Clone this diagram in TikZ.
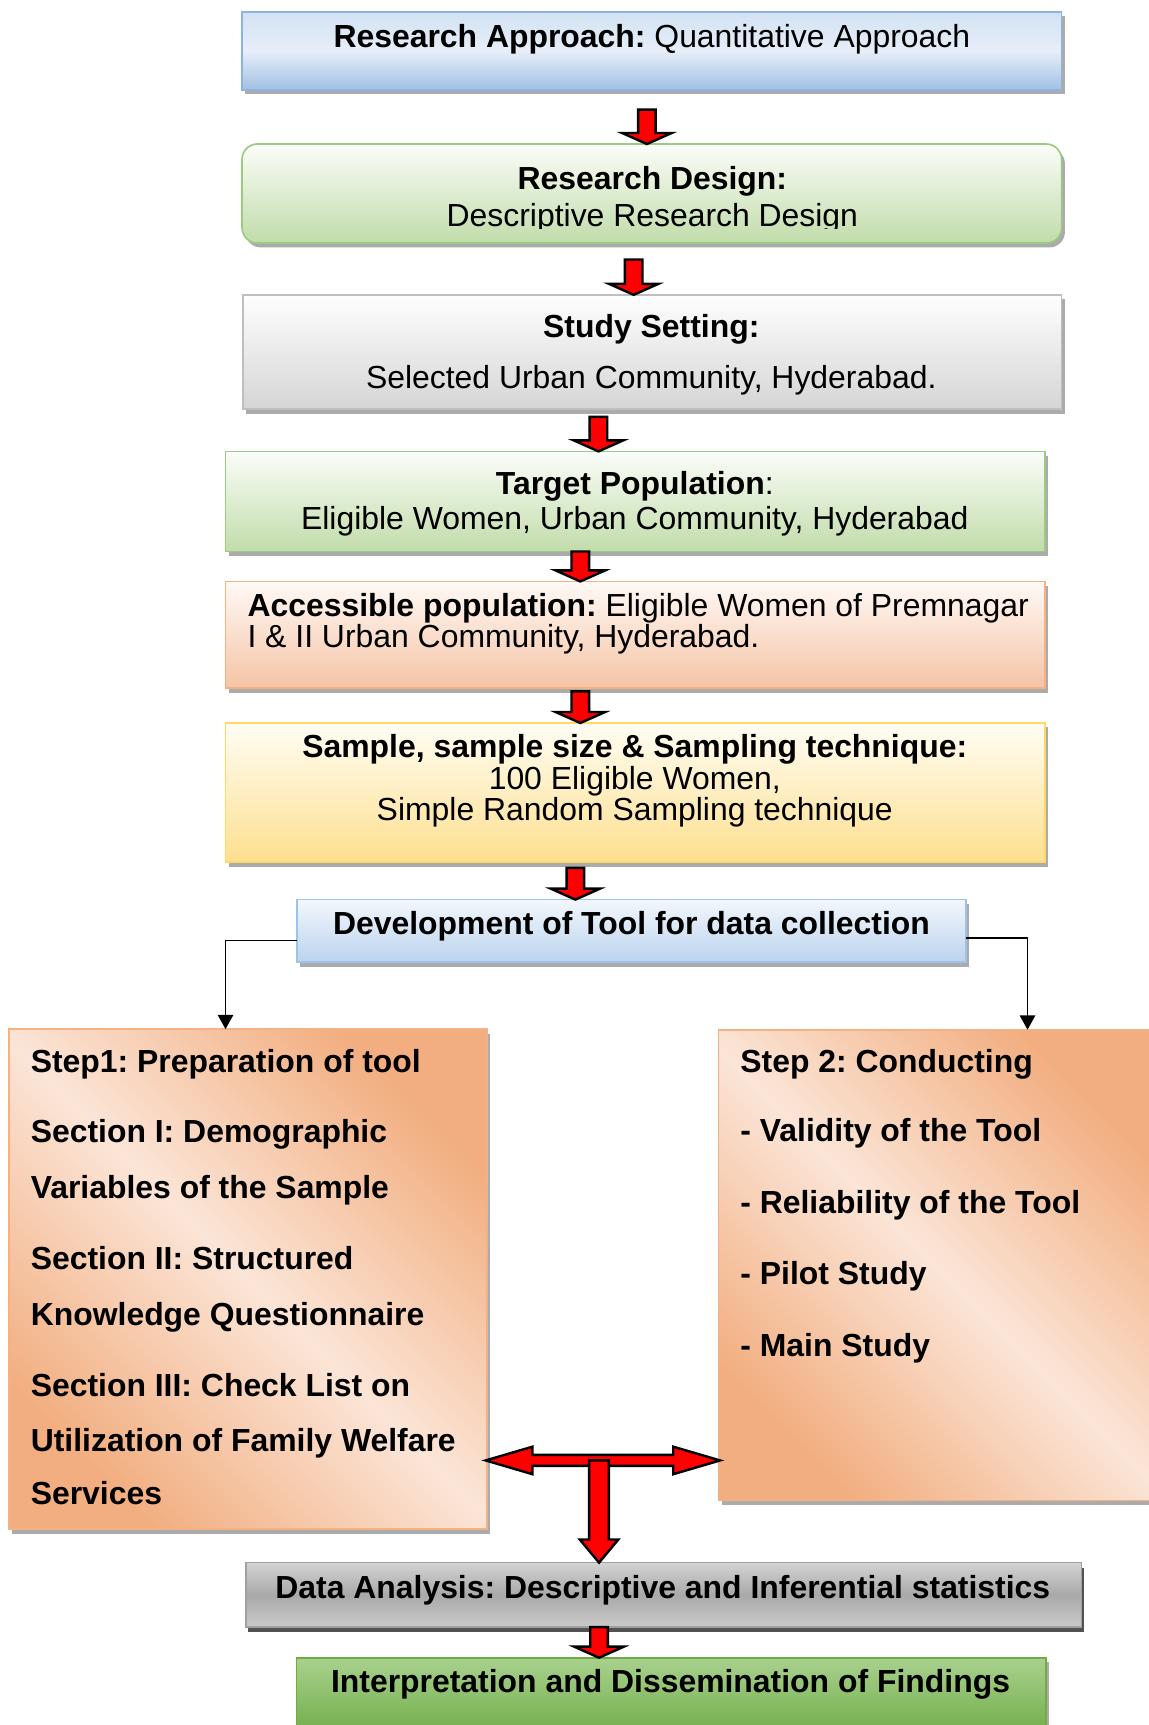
\documentclass[tikz,border=0pt]{standalone}
\usepackage{fontspec}
\setmainfont{Liberation Sans}
\usetikzlibrary{calc,shadows,arrows.meta}
\frenchspacing

\definecolor{blueline}{HTML}{8DB3E2}
\definecolor{bluetop}{HTML}{D2E2F3}
\definecolor{bluemid}{HTML}{E6EEF8}
\definecolor{bluebot}{HTML}{A2C0E4}
\definecolor{bluetwoline}{HTML}{9DC3E6}
\definecolor{bluetwotop}{HTML}{F3F7FC}
\definecolor{bluetwobot}{HTML}{BAD3EE}
\definecolor{greenline}{HTML}{9BCB80}
\definecolor{greentop}{HTML}{FBFDF9}
\definecolor{greenbot}{HTML}{C1DCAA}
\definecolor{grayline}{HTML}{BFBFBF}
\definecolor{graytop}{HTML}{FEFEFE}
\definecolor{graybot}{HTML}{D5D5D5}
\definecolor{peachline}{HTML}{F4B183}
\definecolor{peachtop}{HTML}{FFF9F5}
\definecolor{peachbot}{HTML}{F5C4A5}
\definecolor{yelline}{HTML}{FFD966}
\definecolor{yeltop}{HTML}{FFFDF4}
\definecolor{yelbot}{HTML}{FDDF8E}
\definecolor{stepdark}{HTML}{F2AE80}
\definecolor{steplight}{HTML}{FBE5D7}
\definecolor{dgline}{HTML}{A0A0A0}
\definecolor{dgtop}{HTML}{D3D3D3}
\definecolor{dgmid}{HTML}{A9A9A9}
\definecolor{dgbot}{HTML}{CACACA}
\definecolor{fgline}{HTML}{6FAC46}
\definecolor{fgtop}{HTML}{A9D18E}
\definecolor{fgbot}{HTML}{6EAB45}

\newcommand\fnt{\fontsize{29}{33}\selectfont\frenchspacing}
% block arrow pointing down: #1 start, #2 tip, #3 gap at start, #4 stem half width, #5 head half width, #6 head length
\newcommand\blkdown[6]{\draw[blk] let \p1=#1, \p2=#2 in
 ({\x1-#4},{\y1-#3}) -- ({\x1+#4},{\y1-#3}) -- ({\x1+#4},{\y2+#6}) -- ({\x1+#5},{\y2+#6}) -- (\x1,\y2)
 -- ({\x1-#5},{\y2+#6}) -- ({\x1-#4},{\y2+#6}) -- cycle;}
% horizontal double block arrow between #1 and #2
\newcommand\blkboth[2]{\draw[blk] let \p1=#1, \p2=#2 in
 ({\x1-1pt},\y1) -- ({\x1+41.5pt},{\y1+12.5pt}) -- ({\x1+41.5pt},{\y1+5pt}) -- ({\x2-41pt},{\y1+5pt})
 -- ({\x2-41pt},{\y1+12.5pt}) -- ({\x2+1.5pt},\y1) -- ({\x2-41pt},{\y1-12.5pt}) -- ({\x2-41pt},{\y1-5pt})
 -- ({\x1+41.5pt},{\y1-5pt}) -- ({\x1+41.5pt},{\y1-12.5pt}) -- cycle;}

\tikzset{
  box/.style={draw, line width=1.5pt, inner sep=0pt, outer sep=0pt, rectangle},
  shad/.style={drop shadow={shadow xshift=3pt, shadow yshift=-4pt, fill=black, opacity=0.33}},
  darkshad/.style={drop shadow={shadow xshift=2pt, shadow yshift=-4.5pt, fill=black, opacity=0.68}},
  stepbox/.style={box, draw=peachline, shading=axis, top color=stepdark, bottom color=stepdark,
     middle color=steplight, shading angle=-45, shad},
  txt/.style={inner sep=0pt, outer sep=0pt, anchor=base, font=\fnt, text=black},
  ltxt/.style={txt, anchor=base west},
  btxt/.style={ltxt, font=\fnt\bfseries},
  blk/.style={draw=black, fill=red, line width=2.2pt, line join=miter},
  conn/.style={draw=black, line width=1.5pt, -{Triangle[length=13pt,width=14pt]}},
}

\begin{document}
\begin{tikzpicture}[x=1pt,y=-1pt]
\useasboundingbox (0,0) rectangle (1044,1568);

% boxes
\node[box, draw=blueline, top color=bluetop, bottom color=bluebot, middle color=bluemid, shad,
      minimum width=745pt, minimum height=71pt] (b1) at (592.5,46.2) {};
\node[box, draw=greenline, top color=greentop, bottom color=greenbot, rounded corners=14pt, shad,
      minimum width=745pt, minimum height=90pt] (b2) at (592.5,175.9) {};
\node[box, draw=grayline, top color=graytop, bottom color=graybot, shad,
      minimum width=744pt, minimum height=104pt] (b3) at (593,320) {};
\node[box, draw=greenline, top color=greentop, bottom color=greenbot, shad,
      minimum width=745pt, minimum height=91pt] (b4) at (577.5,455.8) {};
\node[box, draw=peachline, top color=peachtop, bottom color=peachbot, shad,
      minimum width=745pt, minimum height=97pt] (b5) at (577.5,577) {};
\node[box, draw=yelline, top color=yeltop, bottom color=yelbot, shad,
      minimum width=745pt, minimum height=126.6pt] (b6) at (577.5,720.5) {};
\node[box, draw=bluetwoline, top color=bluetwotop, bottom color=bluetwobot, shad,
      minimum width=608pt, minimum height=57pt] (b7) at (574,846.2) {};
\node[stepbox, minimum width=434.5pt, minimum height=454.5pt] (b8) at (225.25,1162.75) {};
\node[stepbox, minimum width=395pt, minimum height=428pt] (b9) at (850.5,1150) {};
\node[box, draw=dgline, top color=dgtop, bottom color=dgbot, middle color=dgmid, darkshad,
      minimum width=759.5pt, minimum height=58.6pt] (b10) at (603.25,1449.7) {};
\node[box, draw=fgline, top color=fgtop, bottom color=fgbot, shad,
      minimum width=681pt, minimum height=73.2pt] (b11) at (610,1543.4) {};

% texts
\node[txt] (t1) at (592.5,43.6) {\textbf{Research Approach:} Quantitative Approach};
\node[txt] (t2a) at (593,172.6) {\textbf{Research Design:}};
\begin{scope}
  \clip (220,130) rectangle (965,207.8);
  \node[txt] (t2b) at (593,206.3) {Descriptive Research Design};
\end{scope}
\node[txt] (t3a) at (592,306.5) {\textbf{Study Setting:}};
\node[txt] (t3b) at (592,352.8) {Selected Urban Community, Hyderabad.};
\node[txt] (t4a) at (577,449.8) {\textbf{Target Population}:};
\node[txt] (t4b) at (577,481.6) {Eligible Women, Urban Community, Hyderabad};
\node[ltxt] (t5a) at (225,560.3) {\textbf{Accessible population:} Eligible Women of Premnagar};
\node[ltxt] (t5b) at (225,588.2) {I \& II Urban Community, Hyderabad.};
\node[txt] (t6a) at (577,689) {\textbf{Sample, sample size \& Sampling technique:}};
\node[txt] (t6b) at (577,717.8) {100 Eligible Women,};
\node[txt] (t6c) at (577,745.7) {Simple Random Sampling technique};
\node[txt] (t7) at (574,849.5) {\textbf{Development of Tool for data collection}};

\node[btxt] (s1a) at (28,974.5) {Step1: Preparation of tool};
\node[btxt] (s1b) at (28,1038.5) {Section I: Demographic};
\node[btxt] (s1c) at (28,1089) {Variables of the Sample};
\node[btxt] (s1d) at (28,1154) {Section II: Structured};
\node[btxt] (s1e) at (28,1204.5) {Knowledge Questionnaire};
\node[btxt] (s1f) at (28,1269) {Section III: Check List on};
\node[btxt] (s1g) at (28,1319) {Utilization of Family Welfare};
\node[btxt] (s1h) at (28,1368) {Services};

\node[btxt] (s2a) at (673,974.5) {Step 2: Conducting};
\node[btxt] (s2b) at (673,1038) {- Validity of the Tool};
\node[btxt] (s2c) at (673,1103) {- Reliability of the Tool};
\node[btxt] (s2d) at (673,1168) {- Pilot Study};
\node[btxt] (s2e) at (673,1233) {- Main Study};

\node[txt] (t10) at (602.5,1453.2) {\textbf{Data Analysis: Descriptive and Inferential statistics}};
\node[txt] (t11) at (609.5,1538.6) {\textbf{Interpretation and Dissemination of Findings}};

% block arrows
\coordinate (ax1) at (588,0);
\coordinate (ax2) at (576,0);
\coordinate (ax3) at (544,0);
\coordinate (ax4) at (527.5,0);
\coordinate (ax5) at (527.5,0);
\coordinate (ax6) at (523,0);
\coordinate (ax7) at (544.5,0);
\blkdown{(ax1 |- b1.south)}{(ax1 |- b2.north)}{18pt}{8pt}{22.5pt}{10pt}
\blkdown{(ax2 |- b2.south)}{(ax2 |- b3.north)}{15pt}{8pt}{22.5pt}{10pt}
\blkdown{(ax3 |- b3.south)}{(ax3 |- b4.north)}{7pt}{8pt}{22.5pt}{10pt}
\blkdown{(ax4 |- b4.south)}{(ax4 |- b5.north)}{0pt}{8pt}{22.5pt}{10pt}
\blkdown{(ax5 |- b5.south)}{(ax5 |- b6.north)}{3pt}{8pt}{22.5pt}{10pt}
\blkdown{(ax6 |- b6.south)}{(ax6 |- b7.north)}{5pt}{8pt}{22.5pt}{10pt}
\blkdown{(ax7 |- b10.south)}{(ax7 |- b11.north)}{0pt}{8pt}{22.5pt}{10pt}

% T arrow
\coordinate (tj) at (544.5,1327.5);
\blkboth{(b8.east |- tj)}{(b9.west |- tj)}
\blkdown{(tj)}{(tj |- b10.north)}{0pt}{9pt}{17.5pt}{21pt}

% thin connectors
\coordinate (cl) at (205,0);
\coordinate (cr) at (934,0);
\draw[conn] ([yshift=-8.8pt]b7.west) -| (cl |- b8.north);
\draw[conn] ([yshift=-6.4pt]b7.east) -| (cr |- b9.north);
\end{tikzpicture}
\end{document}
